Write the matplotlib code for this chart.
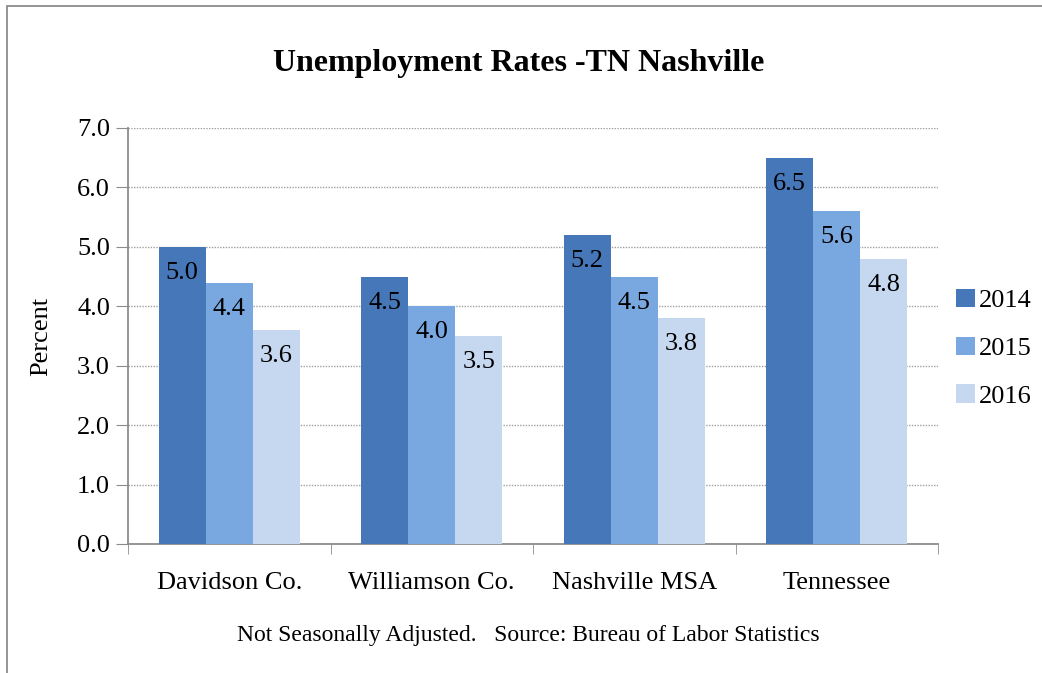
import numpy as np
import matplotlib.pyplot as plt
from matplotlib.patches import Rectangle

plt.rcParams['font.family'] = ['Liberation Serif', 'DejaVu Serif']

categories = ["Davidson Co.", "Williamson Co.", "Nashville MSA", "Tennessee"]
years = ["2014", "2015", "2016"]
rates = {
    "2014": [5.0, 4.5, 5.2, 6.5],
    "2015": [4.4, 4.0, 4.5, 5.6],
    "2016": [3.6, 3.5, 3.8, 4.8],
}
colors = ["#4677B9", "#79A7DF", "#C6D8F0"]

fig = plt.figure(figsize=(10.42, 6.73), dpi=100)
# outer chart border (right and bottom edges fall outside the image)
fig.patches.append(Rectangle((7 / 1042, -0.1), 1.2, 1.1 - 6 / 673, transform=fig.transFigure,
                             fill=False, edgecolor="#8c8c8c", linewidth=1.3))

ax = fig.add_axes([128 / 1042, 1 - 544 / 673, 810 / 1042, 416 / 673])

x = np.arange(len(categories))
bw = 0.232
for i, yr in enumerate(years):
    pos = x + (i - 1) * bw
    bars = ax.bar(pos, rates[yr], width=bw, color=colors[i], label=yr, zorder=3)
    for b, v in zip(bars, rates[yr]):
        ax.text(b.get_x() + b.get_width() / 2, v - 0.44, f"{v:.1f}",
                ha="center", va="center", fontsize=19, zorder=4)

ax.set_xlim(-0.5, len(categories) - 0.5)
ax.set_ylim(0, 7)
ax.set_yticks(np.arange(0, 7.5, 1.0))
ax.set_yticklabels([f"{v:.1f}" for v in np.arange(0, 7.5, 1.0)], fontsize=19)
ax.set_xticks(x)
ax.set_xticklabels(categories, fontsize=19)
ax.tick_params(axis="x", length=0, pad=20)
ax.set_xticks(np.arange(-0.5, len(categories), 1.0), minor=True)
ax.tick_params(axis="x", which="minor", length=7, color="#8c8c8c", direction="out")
ax.tick_params(axis="y", length=9, color="#8c8c8c", pad=4)

ax.grid(axis="y", color="#a0a0a0", linestyle=(0, (1, 1)), linewidth=1, zorder=0)
for s in ["top", "right"]:
    ax.spines[s].set_visible(False)
for s in ["left", "bottom"]:
    ax.spines[s].set_color("#8c8c8c")
    ax.spines[s].set_linewidth(1.3)

ax.set_ylabel("Percent", fontsize=19, labelpad=18)

fig.text(519 / 1042, 1 - 64 / 673, "Unemployment Rates -TN Nashville",
         ha="center", va="center", fontsize=23, fontweight="bold")
fig.text(528 / 1042, 1 - 635 / 673, "Not Seasonally Adjusted.   Source: Bureau of Labor Statistics",
         ha="center", va="center", fontsize=17)

ax.legend(loc="center left", bbox_to_anchor=(1.0, 0.47), frameon=False, fontsize=19,
          handlelength=0.7, handleheight=0.7, handletextpad=0.15, labelspacing=0.92,
          borderaxespad=0.3)

fig.savefig("out.png", dpi=100)
